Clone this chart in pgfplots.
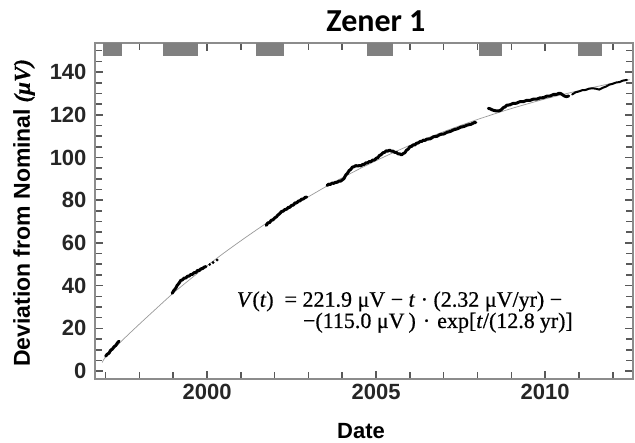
\documentclass[border=0pt]{standalone}
\usepackage{fontspec}
\setmainfont{Liberation Sans}
\newfontfamily\titlefont{Carlito}
\newfontfamily\formfont[FakeBold=0.6]{Liberation Serif}
\usepackage{pgfplots}
\pgfplotsset{compat=1.18}
\begin{document}
\begin{tikzpicture}
\path (-95pt,-64pt) rectangle (540pt,379pt);
\begin{axis}[
  scale only axis, width=538pt, height=336pt,
  at={(0pt,0pt)}, anchor=south west,
  xmin=1996.686, xmax=2012.6, ymin=-3.7, ymax=153.6,
  axis line style={black!45, line width=1.2pt},
  xtick={2000,2005,2010}, minor xtick={1997,1998,1999,2001,2002,2003,2004,2006,2007,2008,2009,2011,2012},
  ytick={0,20,...,140}, minor ytick={5,10,15,25,30,35,45,50,55,65,70,75,85,90,95,105,110,115,125,130,135,145,150},
  xtick align=inside, ytick align=inside, xtick pos=both, ytick pos=both,
  major tick length=8pt, minor tick length=7pt,
  tick style={draw=black!65, line width=1.6pt},
  ticklabel style={font=\bfseries\fontsize{22}{24}\selectfont, text=black!85},
  yticklabel style={xshift=-5pt},
  xticklabel style={yshift=-2pt},
  /pgf/number format/assume math mode=true,
  /pgf/number format/1000 sep={},
]
% gray period boxes
\addplot[fill=black!50, draw=none] coordinates {(1996.91,153.6)(1997.48,153.6)(1997.48,147.5)(1996.91,147.5)} -- cycle;
\addplot[fill=black!50, draw=none] coordinates {(1998.71,153.6)(1999.74,153.6)(1999.74,147.5)(1998.71,147.5)} -- cycle;
\addplot[fill=black!50, draw=none] coordinates {(2001.44,153.6)(2002.28,153.6)(2002.28,147.5)(2001.44,147.5)} -- cycle;
\addplot[fill=black!50, draw=none] coordinates {(2004.72,153.6)(2005.51,153.6)(2005.51,147.5)(2004.72,147.5)} -- cycle;
\addplot[fill=black!50, draw=none] coordinates {(2008.03,153.6)(2008.72,153.6)(2008.72,147.5)(2008.03,147.5)} -- cycle;
\addplot[fill=black!50, draw=none] coordinates {(2010.96,153.6)(2011.68,153.6)(2011.68,147.5)(2010.96,147.5)} -- cycle;
% fit curve
\addplot[black!40, line width=0.7pt, smooth] coordinates {
(1996.90,4.0)(1997.0,6.5)(1997.5,14.5)(1998.0,22.0)(1998.5,29.3)(1999.0,36.5)(1999.5,43.0)
(2000.0,49.3)(2000.5,55.3)(2001.0,61.0)(2001.5,66.5)(2002.0,71.8)(2002.5,76.8)(2003.0,81.6)
(2003.5,86.2)(2004.0,90.5)(2004.5,94.6)(2005.0,98.5)(2005.5,102.2)(2006.0,105.7)(2006.5,109.0)
(2007.0,112.1)(2007.5,115.0)(2008.0,117.8)(2008.5,120.4)(2009.0,122.9)(2009.5,125.2)(2010.0,127.4)
(2010.5,129.4)(2011.0,131.3)(2011.5,133.1)(2012.0,134.8)(2012.5,136.4)};
% data segments
\pgfplotsset{dat/.style={black, line width=3.0pt, line join=round, line cap=round}}
\addplot[dat] coordinates {(1997.00,7.0)(1997.05,7.9)(1997.10,8.4)(1997.15,9.8)(1997.20,10.3)(1997.25,11.4)(1997.30,12.0)(1997.35,13.2)(1997.40,14.0)};
\addplot[dat] coordinates {(1998.97,36.4)(1999.02,37.8)(1999.07,38.7)(1999.12,40.2)(1999.17,41.1)(1999.22,42.4)(1999.27,42.7)(1999.32,43.5)(1999.37,43.6)(1999.42,44.4)(1999.47,44.5)(1999.52,45.2)(1999.57,45.3)(1999.62,46.1)(1999.67,46.2)(1999.72,47.1)(1999.77,47.1)(1999.82,47.9)(1999.87,48.0)(1999.92,48.7)(1999.97,48.9)};
\addplot[black, only marks, mark=*, mark size=1.2pt] coordinates {(2000.08,49.9)(2000.18,50.8)(2000.30,52.0)};
\addplot[dat] coordinates {(2001.75,68.2)(2001.80,69.4)(2001.85,69.5)(2001.90,70.6)(2001.95,70.8)(2002.00,71.7)(2002.05,72.2)(2002.10,73.1)(2002.15,73.7)(2002.20,74.7)(2002.25,74.9)(2002.30,75.6)(2002.35,75.8)(2002.40,76.6)(2002.45,76.7)(2002.50,77.6)(2002.55,77.7)(2002.60,78.7)(2002.65,78.8)(2002.70,79.6)(2002.75,79.7)(2002.80,80.5)(2002.85,80.6)(2002.90,81.3)(2002.95,81.5)};
\addplot[dat] coordinates {(2003.55,86.9)(2003.60,87.5)(2003.65,87.4)(2003.70,88.0)(2003.75,87.9)(2003.80,88.4)(2003.85,88.4)(2003.90,88.9)(2003.95,88.9)(2004.00,89.5)(2004.05,90.1)(2004.10,91.7)(2004.15,92.5)(2004.20,93.8)(2004.25,94.4)(2004.30,95.5)(2004.35,95.7)(2004.40,96.2)(2004.45,96.0)(2004.50,96.2)(2004.55,96.1)(2004.60,96.7)(2004.65,96.8)(2004.70,97.5)(2004.75,97.5)(2004.80,98.1)(2004.85,98.1)(2004.90,98.8)(2004.95,98.8)(2005.00,99.6)(2005.05,99.9)(2005.10,100.9)(2005.15,101.3)(2005.20,102.2)(2005.25,102.4)(2005.30,103.1)(2005.35,103.0)(2005.40,103.4)(2005.45,103.0)(2005.50,103.0)(2005.55,102.4)(2005.60,102.4)(2005.65,101.7)(2005.70,101.7)(2005.75,101.2)(2005.80,101.8)(2005.85,102.2)(2005.90,103.4)(2005.95,103.9)(2006.00,105.0)(2006.05,105.2)(2006.10,105.9)(2006.15,105.9)(2006.20,106.7)(2006.25,106.8)(2006.30,107.5)(2006.35,107.5)(2006.40,108.1)(2006.45,108.0)(2006.50,108.6)(2006.60,108.7)(2006.70,109.7)(2006.80,109.9)(2006.90,110.8)(2007.00,111.0)(2007.10,111.8)(2007.20,112.2)(2007.30,113.0)(2007.40,113.4)(2007.50,114.2)(2007.60,114.5)(2007.70,115.2)(2007.80,115.5)(2007.90,116.3)(2007.95,116.4)};
\addplot[dat] coordinates {(2008.32,123.0)(2008.37,122.8)(2008.42,122.4)(2008.47,122.1)(2008.52,121.9)(2008.57,121.8)(2008.62,121.8)(2008.67,122.0)(2008.72,122.6)(2008.77,123.4)(2008.82,123.7)(2008.87,124.5)(2008.95,124.6)(2009.05,125.3)(2009.15,125.4)(2009.25,126.1)(2009.35,126.1)(2009.45,126.7)(2009.55,126.7)(2009.65,127.3)(2009.75,127.3)(2009.85,127.9)(2009.95,128.0)(2010.05,128.7)(2010.15,128.8)(2010.25,129.5)(2010.35,129.6)(2010.42,130.1)(2010.48,129.8)(2010.53,129.2)(2010.58,128.7)(2010.63,128.5)(2010.70,128.8)};
\addplot[black, line width=2.0pt, line cap=round] coordinates {(2010.80,129.5)(2010.90,130.5)(2011.00,130.9)(2011.10,131.5)(2011.20,131.6)(2011.30,132.2)(2011.40,132.4)(2011.50,132.2)(2011.60,131.8)(2011.70,132.6)(2011.80,133.2)(2011.90,134.1)(2012.00,134.5)(2012.10,135.1)(2012.20,135.3)(2012.30,136.0)(2012.42,136.3)};
\end{axis}
\node[anchor=base, font=\titlefont\bfseries\fontsize{32}{34}\selectfont] at (281pt,347.3pt) {Zener 1};
\node[anchor=base, font=\bfseries\fontsize{22}{24}\selectfont] at (266pt,-60pt) {Date};
\node[rotate=90, anchor=center, font=\bfseries\fontsize{23}{25}\selectfont] at (-71pt,166pt) {Deviation from Nominal {\formfont\itshape (μV)}};
\node[anchor=base west, inner sep=0pt, font=\formfont\fontsize{22}{25}\selectfont] at (141.7pt,72.3pt) {\textit{V}(\textit{t})\ \ = 221.9 μV − \textit{t} · (2.32 μV/yr) −};
\node[anchor=base east, inner sep=0pt, font=\formfont\fontsize{22}{25}\selectfont] at (478pt,51pt) {−(115.0 μV\hspace{4pt})\hspace{7pt}·\hspace{7pt}exp[\textit{t}/(12.8\hspace{5pt}yr)]};
\end{tikzpicture}
\end{document}
